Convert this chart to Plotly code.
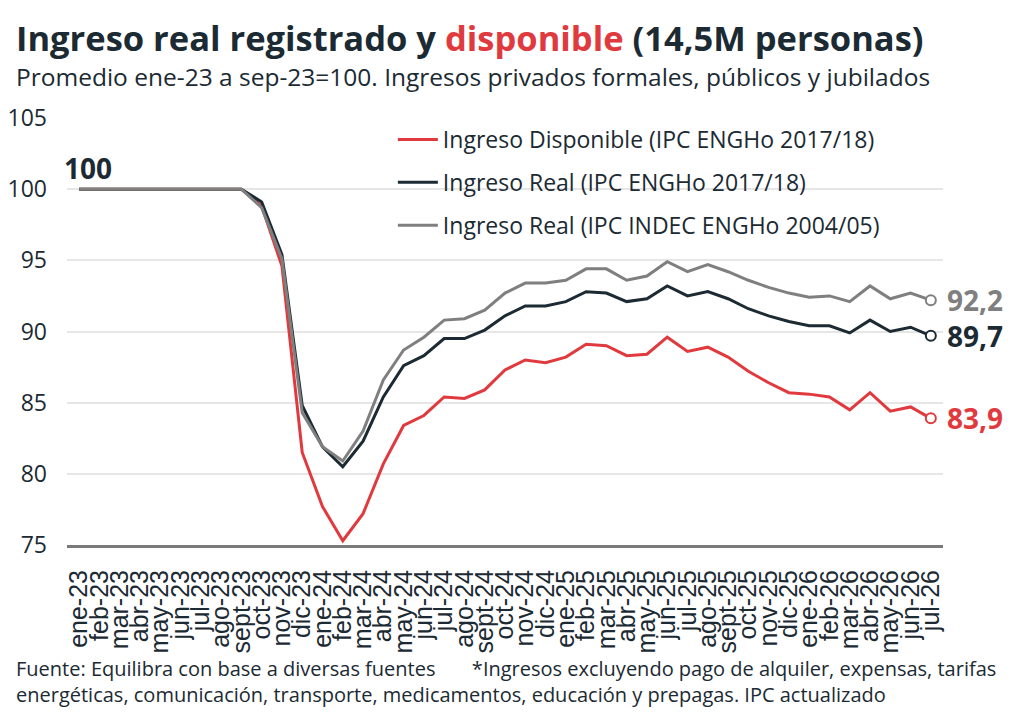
import plotly.graph_objects as go

months = ["ene-23", "feb-23", "mar-23", "abr-23", "may-23", "jun-23", "jul-23", "ago-23", "sept-23", "oct-23", "nov-23", "dic-23",
          "ene-24", "feb-24", "mar-24", "abr-24", "may-24", "jun-24", "jul-24", "ago-24", "sept-24", "oct-24", "nov-24", "dic-24",
          "ene-25", "feb-25", "mar-25", "abr-25", "may-25", "jun-25", "jul-25", "ago-25", "sept-25", "oct-25", "nov-25", "dic-25",
          "ene-26", "feb-26", "mar-26", "abr-26", "may-26", "jun-26", "jul-26"]

disponible = [100, 100, 100, 100, 100, 100, 100, 100, 100, 98.8, 94.6, 81.5,
              77.7, 75.3, 77.2, 80.7, 83.4, 84.1, 85.4, 85.3, 85.9, 87.3, 88.0, 87.8,
              88.2, 89.1, 89.0, 88.3, 88.4, 89.6, 88.6, 88.9, 88.2, 87.2, 86.4, 85.7,
              85.6, 85.4, 84.5, 85.7, 84.4, 84.7, 83.9]

real_1718 = [100, 100, 100, 100, 100, 100, 100, 100, 100, 99.1, 95.4, 84.8,
             81.9, 80.5, 82.3, 85.4, 87.6, 88.3, 89.5, 89.5, 90.1, 91.1, 91.8, 91.8,
             92.1, 92.8, 92.7, 92.1, 92.3, 93.2, 92.5, 92.8, 92.3, 91.6, 91.1, 90.7,
             90.4, 90.4, 89.9, 90.8, 90.0, 90.3, 89.7]

real_0405 = [100, 100, 100, 100, 100, 100, 100, 100, 100, 98.7, 95.1, 84.3,
             81.9, 80.9, 83.0, 86.6, 88.7, 89.6, 90.8, 90.9, 91.5, 92.7, 93.4, 93.4,
             93.6, 94.4, 94.4, 93.6, 93.9, 94.9, 94.2, 94.7, 94.2, 93.6, 93.1, 92.7,
             92.4, 92.5, 92.1, 93.2, 92.3, 92.7, 92.2]

names = ["Ingreso Disponible (IPC ENGHo 2017/18)",
         "Ingreso Real (IPC ENGHo 2017/18)",
         "Ingreso Real (IPC INDEC ENGHo 2004/05)"]
end_labels = ["83,9", "89,7", "92,2"]

RED = "#e03a3e"
DARK = "#1b2a33"
GRAY = "#7f7f7f"
FONT = "Open Sans"

series = [disponible, real_1718, real_0405]
colors = [RED, DARK, GRAY]

fig = go.Figure()
for i, (vals, col, name) in enumerate(zip(series, colors, names)):
    fig.add_trace(go.Scatter(x=months, y=vals, mode="lines", name=name,
                             line=dict(color=col, width=3), legendgroup=str(i)))
for vals, col, lab in zip(series, colors, end_labels):
    fig.add_trace(go.Scatter(x=[months[-1]], y=[vals[-1]], mode="markers", showlegend=False,
                             marker=dict(size=10, color="white", line=dict(color=col, width=2))))
    fig.add_annotation(x=months[-1], y=vals[-1], text="<b>" + lab + "</b>", showarrow=False,
                       xanchor="left", xshift=15, borderpad=0,
                       font=dict(family=FONT, size=28, color=col))

fig.add_annotation(x=months[0], y=real_1718[0], text="<b>100</b>", showarrow=False,
                   xanchor="left", yanchor="bottom", xshift=-17, yshift=0,
                   font=dict(family=FONT, size=28, color=DARK))

# title, subtitle and footer
fig.add_annotation(xref="paper", yref="paper", x=-0.06, y=1.0, yshift=81, xanchor="left", yanchor="middle",
                   text="<b>Ingreso real registrado y <span style='color:" + RED + "'>disponible</span> (14,5M personas)</b>",
                   showarrow=False, font=dict(family=FONT, size=34.5, color=DARK))
fig.add_annotation(xref="paper", yref="paper", x=-0.06, y=1.0, yshift=42, xanchor="left", yanchor="middle",
                   text="Promedio ene-23 a sep-23=100. Ingresos privados formales, públicos y jubilados",
                   showarrow=False, font=dict(family=FONT, size=24.5, color=DARK))
fig.add_annotation(xref="paper", yref="paper", x=-0.06, y=0, yshift=-108, xanchor="left", yanchor="top",
                   align="left",
                   text="Fuente: Equilibra con base a diversas fuentes       *Ingresos excluyendo pago de alquiler, expensas, tarifas<br>"
                        "energéticas, comunicación, transporte, medicamentos, educación y prepagas. IPC actualizado",
                   showarrow=False, font=dict(family=FONT, size=20, color=DARK))

fig.update_layout(
    width=1016, height=716,
    margin=dict(l=59, r=81, t=110, b=179),
    paper_bgcolor="white", plot_bgcolor="white",
    showlegend=True,
    legend=dict(x=0.372, y=1.0, xanchor="left", yanchor="top", bgcolor="rgba(0,0,0,0)",
                font=dict(family=FONT, size=23, color=DARK), tracegroupgap=10, itemwidth=40),
    font=dict(family=FONT, color=DARK),
)
fig.update_xaxes(range=[-0.6, 42.6], tickangle=-90, showgrid=False, showline=True, linecolor="#7a7a7a",
                 linewidth=3, ticks="", tickmode="linear", dtick=1, automargin=False, ticklabelstandoff=12,
                 tickfont=dict(family="Liberation Sans", size=25, color=DARK))
fig.update_yaxes(range=[75, 105], dtick=5, showgrid=True, gridcolor="#e6e6e6", gridwidth=2, zeroline=False,
                 ticks="", ticklabelstandoff=19, automargin=False,
                 tickfont=dict(family=FONT, size=23, color=DARK))

fig.write_html("out.html")
